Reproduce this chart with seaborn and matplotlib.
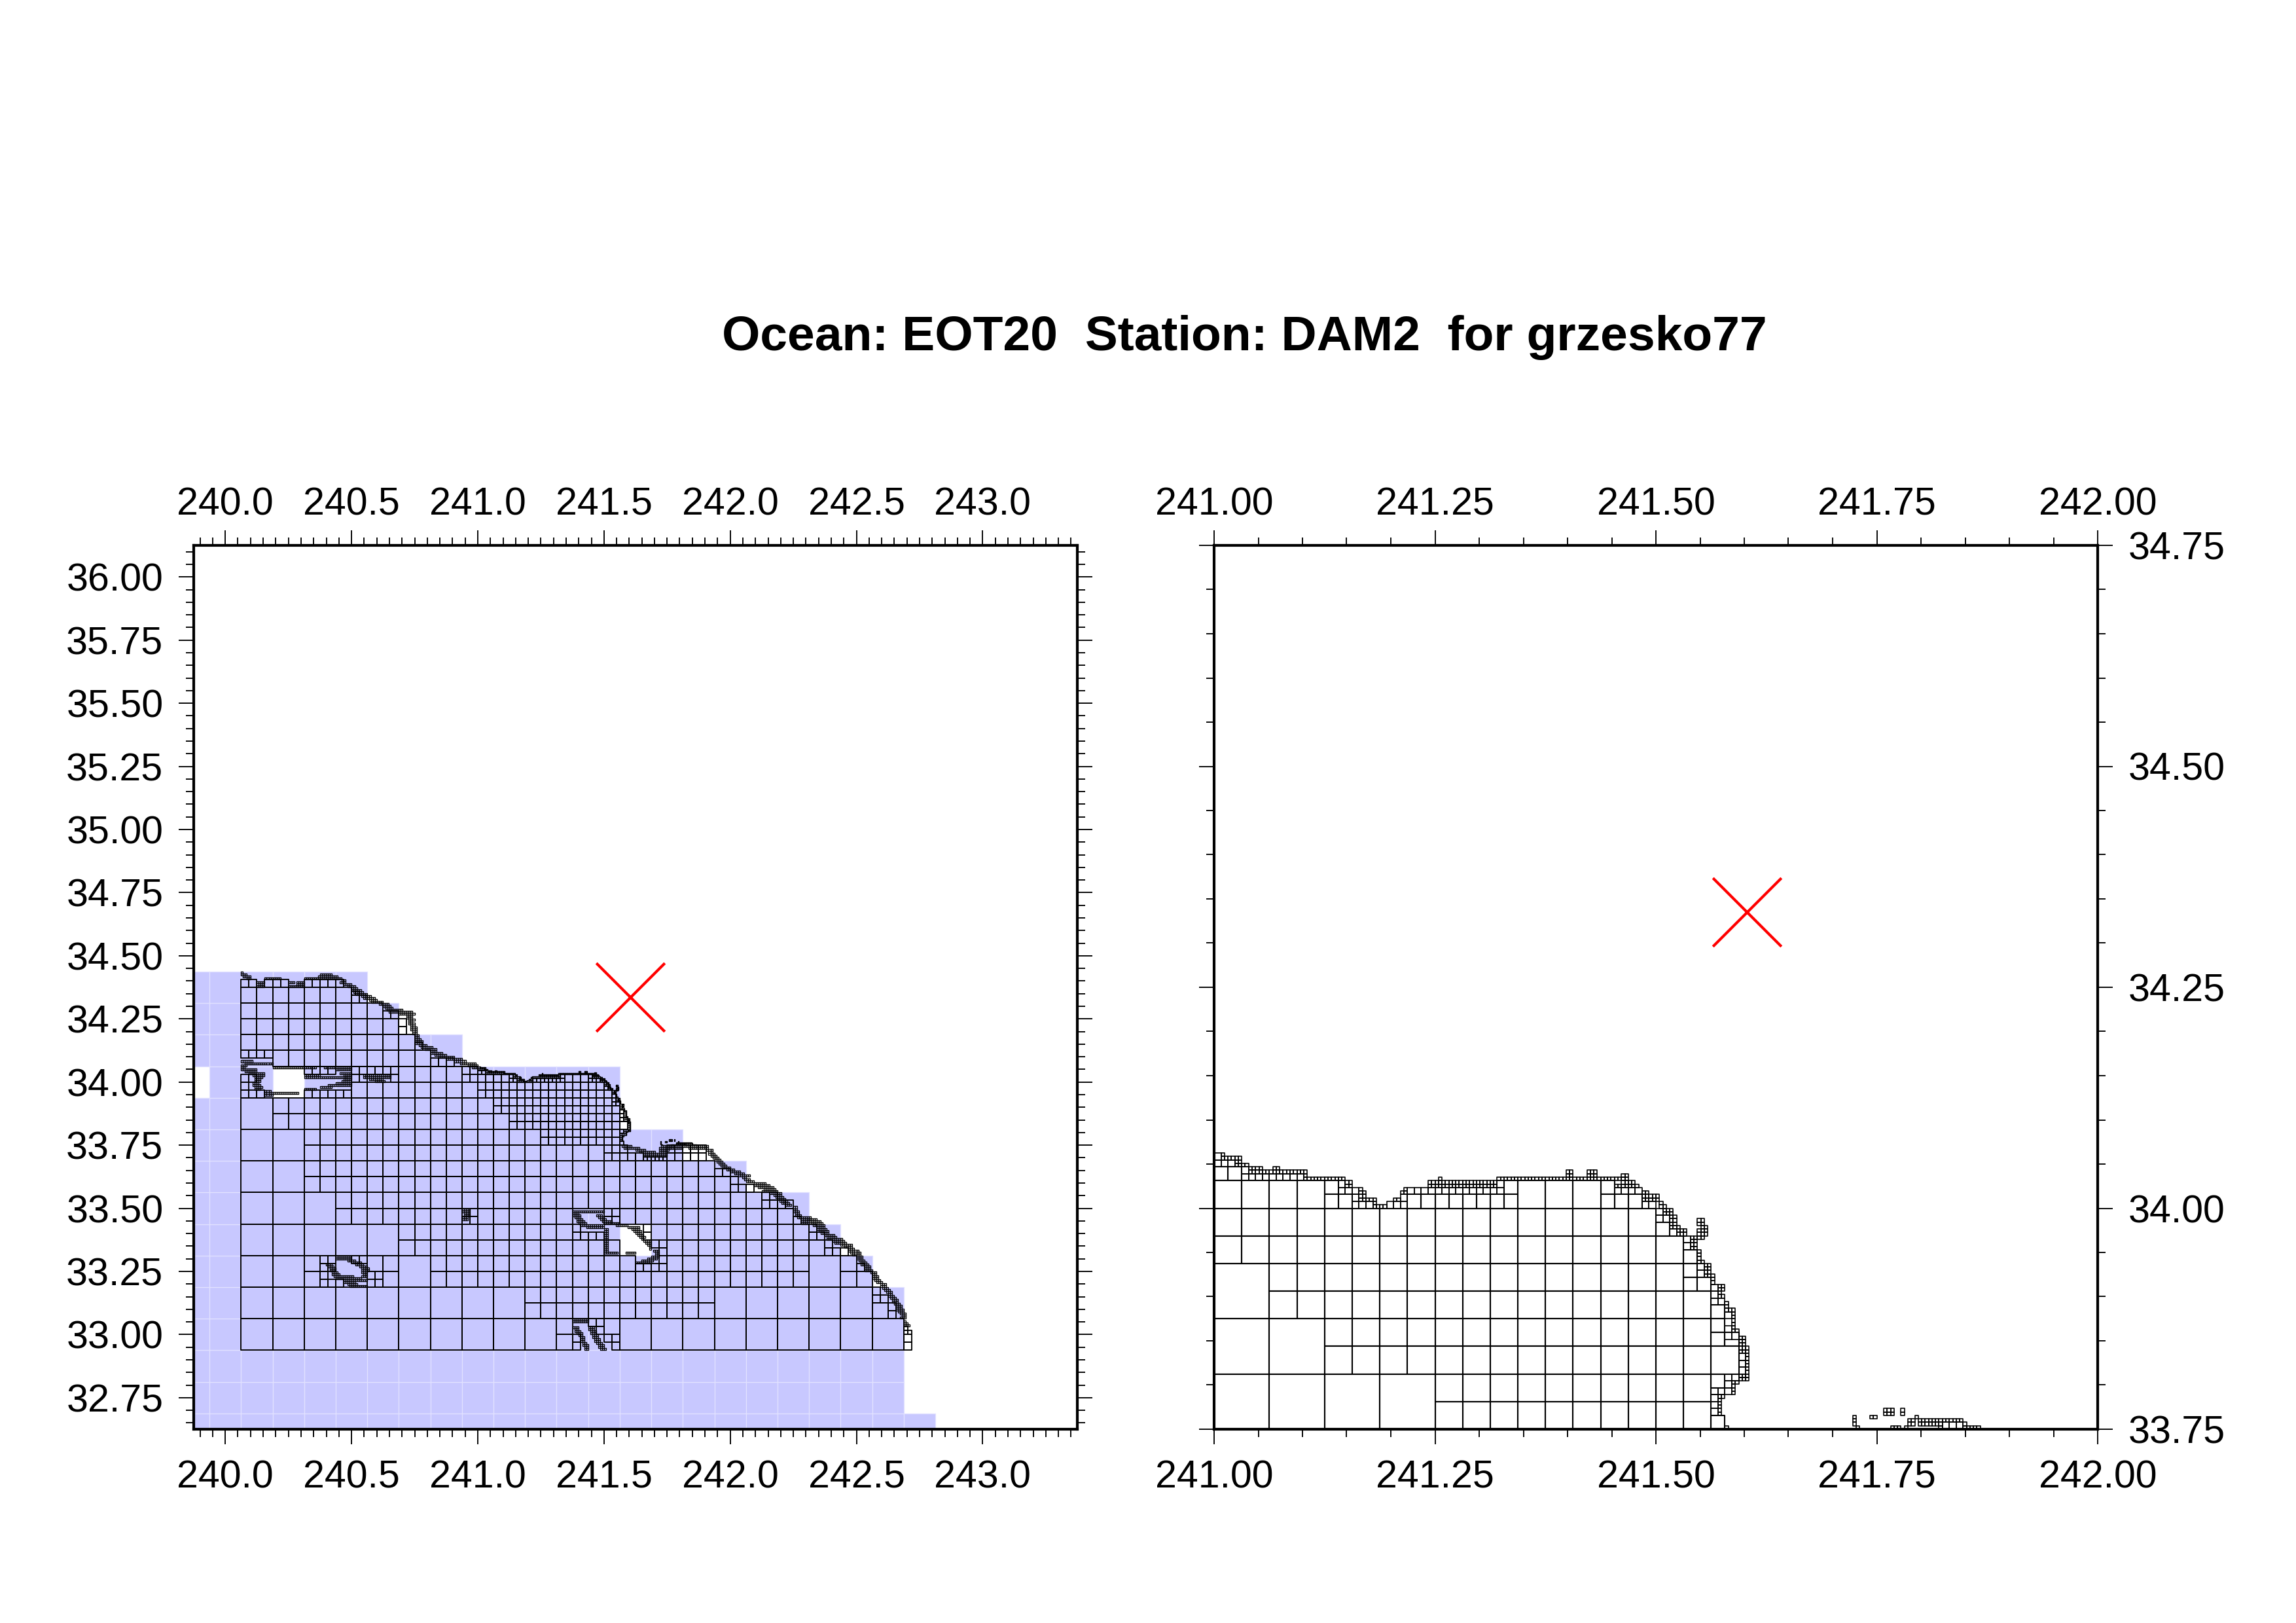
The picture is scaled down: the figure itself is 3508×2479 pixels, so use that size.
import matplotlib
matplotlib.use("Agg")
import matplotlib.pyplot as plt
import seaborn as sns
from matplotlib.collections import PolyCollection
from matplotlib.ticker import MultipleLocator, FormatStrFormatter

# grid cells on a 1/256 degree lattice
# every entry is (row, first column, number of cells in the run)
LON_BASE = 240
LAT_BASE = 32
LATTICE = 256

title = "Ocean: EOT20  Station: DAM2  for grzesko77"
station_lon = [241.603]
station_lat = [34.335]

# blue background: row start and the column where that row stops
blue_rows = [144, 176, 208, 240, 272, 304, 336, 368, 400, 432, 464, 496, 528, 560, 592]
blue_ends = [720, 688, 688, 688, 688, 656, 624, 592, 528, 464, 400, 400, 240, 176, 144]
blue_first_col = -48
blue_gaps = [(496, -48), (496, 48), (336, 400)]

cells_32 = [
    (240, 16, 10), (240, 400, 9), (272, 16, 9), (272, 496, 5), (304, 16, 2), (304, 176, 1), (304, 592, 1),
    (336, 16, 5), (368, 16, 3), (400, 16, 2), (432, 16, 2), (464, 16, 1),
]

cells_16 = [
    (240, 336, 1), (256, 336, 1), (256, 384, 1), (272, 304, 12), (288, 304, 12), (272, 656, 1),
    (304, 80, 1), (304, 160, 1), (304, 208, 24), (304, 624, 1), (304, 640, 1),
    (320, 80, 1), (320, 144, 2), (320, 208, 13), (320, 448, 9), (320, 624, 1),
    (336, 176, 11), (336, 352, 3), (336, 448, 9), (336, 592, 1), (352, 176, 11), (352, 448, 9),
    (368, 112, 8), (368, 256, 6), (368, 400, 11), (384, 112, 27), (400, 80, 27), (416, 80, 26),
    (432, 80, 19), (448, 80, 15), (464, 48, 2), (464, 80, 13), (480, 48, 2), (480, 80, 12),
    (496, 128, 8), (512, 176, 4), (528, 48, 8), (528, 176, 2), (544, 16, 10), (544, 176, 1),
    (560, 16, 10), (576, 16, 9), (592, 16, 7),
]

cells_8 = [
    (448, 320, 10), (456, 320, 10), (464, 288, 14), (472, 288, 14), (480, 272, 16), (488, 272, 15),
    (496, 256, 17), (504, 256, 16), (512, 240, 6), (512, 344, 3), (520, 240, 2), (464, 400, 1),
    (432, 384, 5), (440, 384, 3), (432, 448, 5), (440, 448, 2), (440, 464, 3),
    (368, 384, 2), (376, 384, 2), (352, 352, 4), (360, 352, 1), (360, 424, 1), (352, 424, 1), (344, 432, 1),
    (336, 440, 1), (344, 440, 1), (328, 440, 1), (320, 416, 2), (320, 432, 2),
    (416, 496, 2), (400, 512, 2), (408, 512, 1), (400, 528, 1), (384, 544, 2), (392, 544, 1), (392, 552, 1),
    (384, 560, 2), (368, 576, 1), (360, 592, 1), (352, 592, 2), (344, 608, 1), (336, 608, 3), (320, 640, 1),
    (288, 656, 2), (296, 656, 1), (272, 672, 1), (280, 672, 1), (240, 688, 1), (248, 688, 1),
    (240, 352, 1), (248, 352, 1), (264, 368, 2), (256, 376, 1), (248, 384, 2), (240, 392, 1),
    (368, 240, 2), (376, 248, 1),
    (536, 16, 4), (512, 16, 2), (504, 16, 1), (496, 16, 3), (496, 80, 6), (520, 80, 4),
    (520, 128, 6), (512, 128, 2), (512, 168, 1),
    (608, 16, 2), (608, 40, 3), (608, 80, 4), (608, 112, 1), (592, 128, 2),
    (576, 160, 2), (568, 176, 1), (560, 176, 1), (544, 192, 1), (528, 208, 3),
    (328, 96, 2), (320, 96, 2), (312, 96, 1), (304, 96, 3), (328, 128, 2), (312, 144, 2), (304, 144, 2),
]

cells_4 = [
    (512, 288, 2), (516, 288, 1), (512, 368, 2), (516, 368, 1), (512, 376, 1), (504, 384, 1), (496, 392, 1),
    (492, 392, 1), (488, 392, 2), (480, 400, 1), (476, 400, 1), (472, 400, 2), (460, 400, 1), (448, 400, 1),
    (520, 256, 2), (512, 312, 8), (516, 340, 1), (432, 424, 6), (256, 688, 2), (260, 688, 1), (600, 128, 2),
]

# 1/128 degree cells seen in the zoomed panel
cells_2_right = [
    (516, 372, 4), (512, 380, 2), (510, 384, 1), (508, 384, 2), (504, 388, 1), (502, 392, 1), (500, 392, 1),
    (494, 396, 1), (492, 396, 1), (488, 400, 1), (486, 400, 1), (484, 400, 2), (480, 404, 1), (476, 404, 1),
    (474, 404, 2), (468, 408, 1), (466, 408, 1), (464, 408, 1), (462, 404, 2), (460, 404, 1), (458, 400, 3),
    (456, 400, 1), (454, 400, 1), (452, 400, 1), (448, 467, 3), (524, 256, 3), (526, 256, 1), (522, 264, 1),
    (520, 264, 9), (516, 292, 2), (518, 292, 1), (512, 296, 3), (514, 296, 1), (516, 296, 1), (512, 306, 3),
    (514, 310, 1), (516, 312, 14), (518, 338, 1),
]

# 1/128 degree cells along the mainland
cells_2_coast = [
    (622, 16, 1), (620, 16, 3), (618, 18, 4), (616, 22, 2), (616, 40, 8), (612, 32, 4), (610, 34, 2), (608, 32, 4),
    (612, 64, 3), (608, 64, 4), (612, 72, 4), (610, 72, 4), (608, 72, 4), (616, 80, 16), (618, 94, 10), (620, 96, 6),
    (616, 112, 3), (614, 118, 2), (612, 116, 3), (610, 120, 4), (608, 124, 4), (606, 128, 3), (604, 128, 5),
    (602, 130, 5), (600, 132, 6), (598, 138, 5), (596, 140, 6), (594, 146, 4), (592, 148, 6), (590, 156, 5),
    (588, 160, 4), (586, 162, 4), (584, 164, 8), (582, 166, 12), (580, 176, 8), (578, 184, 3), (576, 184, 3),
    (574, 186, 3), (572, 186, 2), (570, 186, 3), (568, 188, 2), (566, 188, 3), (564, 188, 3), (562, 190, 2),
    (560, 190, 2), (558, 192, 2), (556, 192, 2), (554, 192, 3), (552, 192, 4), (550, 192, 4), (548, 196, 4),
    (546, 198, 6), (544, 202, 6), (542, 208, 3), (540, 208, 6), (538, 212, 6), (536, 216, 8), (534, 224, 8),
    (532, 232, 6), (530, 238, 8), (528, 246, 5), (526, 250, 3),
    (446, 402, 5), (444, 404, 8), (442, 416, 5), (440, 420, 8), (438, 424, 12), (436, 424, 12),
    (440, 440, 4), (442, 440, 5), (444, 440, 6), (446, 442, 6), (446, 448, 21), (444, 448, 8), (444, 470, 10),
    (442, 488, 3), (440, 490, 2), (438, 490, 3), (436, 492, 3), (434, 494, 3), (432, 496, 3), (430, 498, 3),
    (428, 500, 3), (426, 502, 3), (424, 504, 4), (422, 508, 4), (420, 512, 5), (418, 516, 5), (416, 520, 6),
    (414, 524, 2), (412, 526, 3), (410, 528, 4), (408, 536, 6), (406, 536, 8), (404, 540, 8), (402, 546, 6),
    (400, 544, 8), (398, 552, 6), (396, 556, 4), (394, 558, 4), (392, 560, 4), (390, 562, 4), (388, 564, 4),
    (386, 568, 3), (384, 576, 2), (382, 576, 2), (380, 576, 3), (378, 578, 2), (376, 578, 3), (374, 580, 7),
    (372, 584, 5), (372, 590, 5), (370, 584, 4), (370, 592, 6), (368, 584, 4), (368, 594, 6), (366, 596, 6),
    (364, 600, 4), (362, 600, 5), (360, 602, 5), (358, 604, 4), (356, 608, 5), (354, 610, 5), (352, 610, 8),
    (350, 616, 6), (348, 618, 6), (346, 624, 6), (344, 628, 4), (342, 632, 3), (340, 632, 5), (338, 634, 5),
    (336, 636, 4), (334, 640, 3), (332, 640, 3), (330, 642, 3), (328, 644, 3), (326, 644, 4), (324, 648, 3),
    (322, 648, 3), (320, 648, 4), (318, 654, 3), (316, 656, 2), (314, 656, 3), (312, 656, 3), (310, 658, 3),
    (308, 660, 3), (306, 664, 3), (304, 664, 3), (302, 666, 3), (300, 668, 3), (298, 670, 3), (296, 672, 2),
    (294, 672, 3), (292, 674, 3), (290, 676, 3), (288, 676, 3), (286, 678, 3), (284, 680, 3), (282, 680, 3),
    (280, 680, 4), (278, 682, 3), (276, 684, 3), (274, 686, 2), (272, 684, 3),
    (264, 688, 3), (266, 688, 2), (268, 688, 1),
]

# 1/128 degree cells around the islands
cells_2_islands = [
    (380, 352, 16), (378, 352, 3), (376, 352, 4), (374, 354, 3), (372, 356, 3), (370, 356, 4), (368, 358, 4),
    (366, 360, 12), (364, 366, 9), (362, 384, 2), (360, 384, 2), (358, 384, 2), (356, 384, 2), (354, 384, 2),
    (352, 384, 2), (350, 384, 2), (348, 384, 2), (346, 384, 2), (344, 384, 2), (342, 384, 2), (340, 384, 2),
    (338, 384, 7), (338, 406, 5), (376, 376, 3), (374, 378, 3), (372, 380, 3), (370, 382, 5), (368, 384, 8),
    (366, 396, 6), (364, 408, 6), (362, 412, 4), (360, 414, 4), (358, 416, 3), (356, 418, 3), (354, 420, 3),
    (352, 422, 1), (350, 424, 4), (348, 426, 3), (346, 428, 2), (344, 430, 1), (342, 430, 1), (340, 434, 3),
    (338, 436, 2), (336, 436, 2), (334, 432, 4), (332, 428, 5), (330, 422, 6), (328, 416, 8),
    (270, 352, 8), (268, 352, 8), (262, 352, 3), (260, 354, 2), (258, 354, 3), (256, 356, 3), (254, 358, 2),
    (252, 360, 2), (250, 360, 2), (248, 360, 2), (246, 362, 2), (244, 362, 3), (242, 364, 2), (240, 364, 2),
    (262, 368, 3), (260, 368, 3), (258, 370, 3), (256, 370, 3), (254, 372, 3), (252, 372, 3), (250, 374, 3),
    (248, 374, 3), (246, 376, 3), (244, 378, 3), (242, 378, 3), (240, 380, 3),
    (382, 240, 4), (380, 240, 4), (378, 242, 3), (376, 242, 3), (374, 240, 3), (372, 240, 3),
    (532, 16, 6), (530, 20, 14), (528, 16, 3), (526, 16, 2), (526, 48, 22), (524, 16, 8), (522, 20, 6),
    (520, 24, 8), (518, 28, 6), (516, 30, 4), (514, 30, 3), (512, 30, 3), (510, 28, 3), (508, 28, 4),
    (506, 30, 4), (504, 30, 3), (502, 40, 3), (500, 40, 17), (498, 40, 4),
    (504, 80, 6), (506, 96, 6), (508, 104, 12), (510, 112, 8), (512, 118, 4), (514, 120, 4), (516, 80, 22),
    (518, 80, 8), (516, 120, 4), (518, 120, 4), (520, 116, 6), (524, 112, 8), (526, 100, 14),
    (518, 140, 14), (516, 140, 14), (514, 146, 7), (512, 152, 5),
    # San Nicolas ring
    (334, 112, 8), (332, 112, 8), (330, 124, 4), (328, 130, 4), (326, 132, 4), (324, 136, 4), (322, 138, 4),
    (320, 138, 4), (318, 138, 3), (316, 140, 2), (314, 138, 3), (326, 102, 3), (324, 104, 3), (322, 106, 3),
    (320, 106, 3), (318, 108, 3), (316, 108, 4), (314, 110, 4), (312, 112, 5), (314, 118, 6), (312, 122, 8),
    (310, 120, 12), (308, 120, 6), (306, 124, 5), (304, 126, 9),
]

# 1/256 degree cells seen in the zoomed panel
cells_1 = [
    (527, 258, 1), (526, 258, 6), (525, 262, 2), (524, 262, 4), (523, 266, 4), (523, 273, 2), (522, 266, 17),
    (521, 282, 1), (520, 282, 12), (519, 294, 2), (518, 294, 2), (517, 298, 1), (516, 298, 2), (515, 298, 2),
    (514, 298, 2), (514, 300, 2), (514, 302, 1), (513, 302, 1), (512, 302, 4), (514, 308, 2), (517, 311, 1),
    (516, 310, 2), (519, 318, 17), (518, 318, 17), (520, 321, 1), (519, 335, 3), (518, 335, 3), (520, 338, 37),
    (521, 358, 2), (522, 358, 2), (521, 364, 3), (522, 364, 3), (518, 372, 7), (519, 374, 4), (520, 374, 2),
    (521, 374, 2), (514, 380, 5), (515, 380, 5), (516, 380, 2), (512, 385, 1), (513, 385, 1), (510, 386, 3),
    (511, 386, 3), (512, 386, 1), (508, 388, 2), (509, 388, 2), (506, 388, 2), (507, 388, 2), (504, 390, 3),
    (505, 390, 3), (506, 390, 1), (500, 394, 2), (501, 394, 2), (502, 394, 2), (503, 394, 2),
    (507, 396, 2), (508, 396, 2), (504, 397, 2), (505, 397, 2), (506, 397, 2), (505, 396, 1), (504, 396, 1),
    (503, 396, 2), (496, 396, 2), (497, 396, 1), (498, 396, 1), (499, 396, 1), (492, 398, 2), (493, 398, 2),
    (494, 398, 2), (495, 398, 2), (490, 400, 1), (491, 400, 1), (492, 400, 1), (486, 402, 2), (487, 402, 1),
    (488, 402, 2), (489, 402, 2), (482, 404, 3), (483, 404, 1), (484, 404, 1), (480, 406, 1), (481, 406, 1),
    (479, 406, 1), (478, 406, 1), (477, 406, 1), (476, 406, 2), (474, 408, 2), (473, 408, 2), (472, 408, 2),
    (471, 408, 3), (470, 408, 3), (469, 410, 1), (468, 410, 1), (467, 410, 1), (466, 410, 1), (465, 410, 1),
    (464, 410, 1), (463, 408, 3), (462, 408, 3), (461, 406, 2), (460, 406, 1), (459, 406, 1), (458, 406, 1),
    (457, 402, 2), (456, 402, 1), (455, 402, 1), (454, 402, 1), (453, 402, 1), (452, 402, 1), (448, 404, 1),
    (451, 441, 1), (450, 441, 1), (449, 441, 1), (448, 442, 1), (451, 446, 2), (453, 450, 3), (452, 450, 3),
    (453, 455, 1), (452, 455, 1), (448, 452, 3), (448, 456, 1), (450, 457, 2), (449, 457, 2), (451, 459, 1),
    (450, 460, 13), (449, 460, 7), (448, 466, 1), (449, 473, 1), (448, 473, 5),
]

x_major_left = 0.5
y_major_left = 0.25
major_right = 0.25
minor_step = 0.05


def lon_of(col):
    return LON_BASE + col / LATTICE


def lat_of(row):
    return LAT_BASE + row / LATTICE


def cell_box(row, col, size):
    x0, x1 = lon_of(col), lon_of(col + size)
    y0, y1 = lat_of(row), lat_of(row + size)
    return [(x0, y0), (x1, y0), (x1, y1), (x0, y1)]


def blue_boxes():
    boxes = []
    for row, end in zip(blue_rows, blue_ends, strict=True):
        col = blue_first_col
        while col < end:
            if (row, col) not in blue_gaps:
                boxes.append(cell_box(row, col, 32))
            col += 32
    return boxes


def grid_boxes(levels):
    boxes = []
    for size, runs in levels:
        for row, col, count in runs:
            for k in range(count):
                boxes.append(cell_box(row, col + k * size, size))
    return boxes


def style_axis(ax, x_major, y_major, x_fmt, y_fmt):
    ax.xaxis.set_major_locator(MultipleLocator(x_major))
    ax.yaxis.set_major_locator(MultipleLocator(y_major))
    ax.xaxis.set_minor_locator(MultipleLocator(minor_step))
    ax.yaxis.set_minor_locator(MultipleLocator(minor_step))
    ax.xaxis.set_major_formatter(FormatStrFormatter(x_fmt))
    ax.yaxis.set_major_formatter(FormatStrFormatter(y_fmt))
    ax.tick_params(which="major", length=5.6, width=0.45, direction="out", top=True, bottom=True,
                   left=True, right=True, labeltop=True, labelbottom=True, labelsize=14.2,
                   color="black", labelcolor="black", pad=5.6)
    ax.tick_params(which="minor", length=2.9, width=0.45, direction="out", top=True, bottom=True,
                   left=True, right=True, color="black")
    for spine in ax.spines.values():
        spine.set_visible(True)
        spine.set_linewidth(1.0)
        spine.set_color("black")
    ax.set_xlabel("")
    ax.set_ylabel("")


def draw_grid(ax, coarse_lw, fine_lw):
    coarse = grid_boxes([(32, cells_32), (16, cells_16), (8, cells_8), (4, cells_4)])
    fine = grid_boxes([(2, cells_2_right), (2, cells_2_coast), (2, cells_2_islands), (1, cells_1)])
    ax.add_collection(PolyCollection(coarse, facecolors="none", edgecolors="black", linewidths=coarse_lw, zorder=2))
    ax.add_collection(PolyCollection(fine, facecolors="none", edgecolors="black", linewidths=fine_lw, zorder=2))


sns.set_theme(style="ticks")
plt.rcParams["font.family"] = ["Liberation Sans", "DejaVu Sans"]

fig = plt.figure(figsize=(3508 / 300, 2479 / 300), dpi=300, facecolor="white")
W, H = 3508, 2479
side = 1350
ax_left = fig.add_axes([296 / W, 1 - 2183 / H, side / W, side / H])
ax_right = fig.add_axes([1855 / W, 1 - 2183 / H, side / W, side / H])

# left panel: blue cells under the grid
ax_left.add_collection(PolyCollection(blue_boxes(), facecolors="#C8C8FF", edgecolors="#E2E2FF",
                                      linewidths=0.3, zorder=1))
draw_grid(ax_left, 0.45, 0.31)
sns.scatterplot(x=station_lon, y=station_lat, marker="x", s=630, color="red", linewidth=1.0,
                ax=ax_left, legend=False, zorder=5)
ax_left.set_xlim(239.875, 243.375)
ax_left.set_ylim(32.625, 36.125)
style_axis(ax_left, x_major_left, y_major_left, "%.1f", "%.2f")

# right panel: zoom on the station, no blue
draw_grid(ax_right, 0.5, 0.4)
sns.scatterplot(x=station_lon, y=station_lat, marker="x", s=630, color="red", linewidth=1.0,
                ax=ax_right, legend=False, zorder=5)
ax_right.set_xlim(241, 242)
ax_right.set_ylim(33.75, 34.75)
style_axis(ax_right, major_right, major_right, "%.2f", "%.2f")
ax_right.tick_params(which="major", labelleft=False, labelright=True)

fig.text(1901 / W, 1 - 535 / H, title, ha="center", va="baseline", fontsize=18.0, fontweight="bold", color="black")

# top labels sit on their baseline, closer to the ticks
fig.canvas.draw()
for ax in (ax_left, ax_right):
    for tick in ax.xaxis.get_major_ticks():
        tick.label2.set_verticalalignment("baseline")

fig.savefig("out.png", dpi=300, facecolor="white")
